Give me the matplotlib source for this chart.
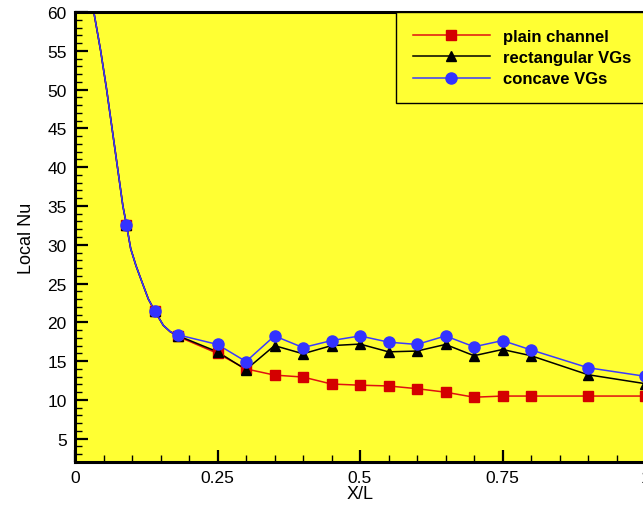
import matplotlib
matplotlib.use("Agg")
import matplotlib.pyplot as plt
from matplotlib.ticker import MultipleLocator, FixedLocator

plt.rcParams['font.family'] = ['Liberation Sans', 'DejaVu Sans']

# inlet curve (shared by all three cases)
x_inlet = [0.031, 0.033, 0.045, 0.0555, 0.065, 0.0745, 0.084, 0.0905, 0.0977,
           0.107, 0.1175, 0.1287, 0.1404, 0.155, 0.167]
nu_inlet = [61.0, 60.0, 55.0, 50.0, 45.0, 40.0, 35.0, 32.5, 29.5,
            27.3, 25.2, 23.0, 21.4, 19.6, 18.8]

# marker positions
x_pts = [0.09, 0.14, 0.18, 0.25, 0.30, 0.35, 0.40, 0.45, 0.50, 0.55, 0.60,
         0.65, 0.70, 0.75, 0.80, 0.90, 1.00]
nu_plain = [32.5, 21.4, 18.2, 16.0, 14.0, 13.2, 12.95, 12.05, 11.9, 11.8, 11.45,
            11.0, 10.35, 10.5, 10.5, 10.5, 10.5]
nu_rect = [32.5, 21.4, 18.3, 16.2, 13.9, 17.0, 15.95, 17.0, 17.2, 16.2, 16.3,
           17.15, 15.7, 16.5, 15.7, 13.25, 12.1]
nu_concave = [32.5, 21.4, 18.4, 17.15, 14.95, 18.25, 16.75, 17.65, 18.25, 17.45, 17.15,
              18.25, 16.85, 17.65, 16.45, 14.15, 13.05]

labels = ["plain channel", "rectangular VGs", "concave VGs"]
yellow = "#ffff33"

fig = plt.figure(figsize=(6.43, 5.06), dpi=100)
ax = fig.add_axes([75 / 643, 43 / 506, 570 / 643, 450 / 506])
ax.set_facecolor(yellow)

styles = [
    (nu_plain, "#e01010", "#d40000", "s", 6.5),
    (nu_rect, "black", "black", "^", 7),
    (nu_concave, "#3a3aff", "#3333ff", "o", 8),
]
for (nu, lc, mc, mk, ms), lab in zip(styles, labels):
    # line runs along the inlet curve, then through the marked points
    ax.plot(x_inlet + x_pts[2:], nu_inlet + nu[2:], color=lc, lw=1.1, zorder=2)
    ax.plot(x_pts, nu, ls="none", marker=mk, ms=ms, color=mc, zorder=3)
    ax.plot([], [], color=lc, lw=1.1, marker=mk, ms=ms, mfc=mc, mec=mc, label=lab)

ax.set_xlim(0, 1)
ax.set_ylim(2, 60)
ax.xaxis.set_major_locator(FixedLocator([0, 0.25, 0.5, 0.75, 1]))
ax.set_xticklabels(["0", "0.25", "0.5", "0.75", "1"])
ax.xaxis.set_minor_locator(MultipleLocator(0.05))
ax.yaxis.set_major_locator(MultipleLocator(5))
ax.yaxis.set_minor_locator(MultipleLocator(1))
ax.tick_params(which="both", direction="in", top=False, right=False, labelsize=12.5)
ax.tick_params(which="major", length=9, width=1.6, pad=6)
ax.tick_params(which="minor", length=5, width=1.0)

for side in ["left", "bottom", "top"]:
    ax.spines[side].set_linewidth(2.2)
ax.spines["right"].set_visible(False)

ax.set_xlabel("X/L", fontsize=13, labelpad=0)
ax.set_ylabel("Local Nu", fontsize=13, labelpad=9)

# legend box runs off the right edge, as in the original
leg = ax.legend(loc="upper left", bbox_to_anchor=(0.564, 0.0, 0.46, 1.0),
                mode="expand", frameon=True, fancybox=False, facecolor=yellow,
                edgecolor="black", framealpha=1,
                prop={"weight": "bold", "size": 12}, handlelength=4.6,
                handletextpad=0.8, labelspacing=0.38, borderpad=1.0,
                borderaxespad=0)
leg.get_frame().set_linewidth(1.0)

fig.savefig("out.png", dpi=100)
